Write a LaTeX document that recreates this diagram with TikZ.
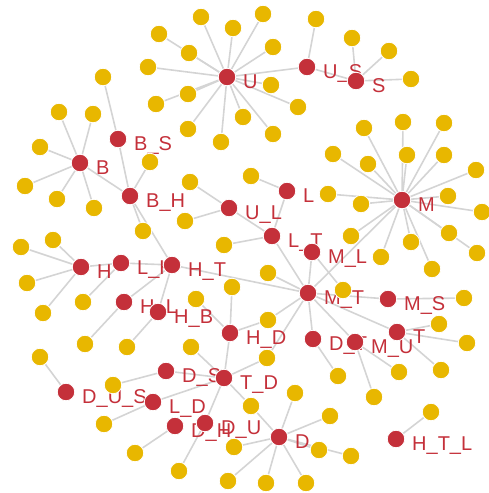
\documentclass[tikz,border=0pt]{standalone}
\usepackage{fontspec}
\setmainfont{Liberation Sans}
\definecolor{hubred}{HTML}{C4303A}
\definecolor{leafyel}{HTML}{E8B700}
\definecolor{linkgray}{HTML}{D4D4D4}
\pgfdeclarelayer{edges}
\pgfdeclarelayer{texts}
\pgfsetlayers{edges,texts,main}

\begin{document}
\begin{tikzpicture}[x=1pt,y=-1pt,
    hub/.style={circle,fill=hubred,draw=white,line width=0.8pt,minimum size=17.5pt,inner sep=0pt},
    leaf/.style={circle,fill=leafyel,draw=white,line width=0.8pt,minimum size=17.5pt,inner sep=0pt},
    tag/.style={anchor=base west,text=hubred,inner sep=0pt,font=\fontsize{20}{24}\selectfont},
    link/.style={draw=linkgray,line width=1.6pt}]
  \useasboundingbox (0,0) rectangle (489,493);

  % red tag nodes with their names
  \foreach \n/\x/\y/\lab in {U/227/77/U, US/307/67/U\_S, S/356/81/S, BS/118/139/B\_S,
      B/80/163/B, BH/130/196/B\_H, UL/229/208/U\_L, L/287/191/L, LT/272/236/L\_T,
      M/402/200/M, ML/312/252/M\_L, MT/308/293/M\_T, MS/388/299/M\_S, DT/313/339/D\_T,
      MU/355/342/M\_U, T/397/332/T, H/81/267/H, LH/121/263/L\_H, HT/172/265/H\_T,
      HL/124/302/H\_L, HB/158/312/H\_B, HD/230/333/H\_D, DS/166/371/D\_S, TD/224/378/T\_D,
      DUS/66/392/D\_U\_S, LD/153/402/L\_D, DH/175/426/D\_H, DU/205/423/D\_U, D/279/437/D,
      HTL/396/439/H\_T\_L} {
    \node[hub] (\n) at (\x,\y) {};
    \begin{pgfonlayer}{texts}
      \node[tag] (\n-t) at (\x+16,\y+11) {\lab};
    \end{pgfonlayer}
  }

  % yellow items
  \foreach \n/\x/\y in {u1/201/17, u2/233/28, u3/263/14, u4/159/34, u5/189/53, u6/273/47,
      u7/148/67, u8/271/85, u9/188/94, u10/156/104, u11/298/107, u12/243/117, u13/188/129,
      u14/273/134, u15/221/142, us1/316/19, s1/352/38, s2/389/51, s3/411/79, bs1/103/77,
      b1/59/112, b2/93/114, b3/40/147, b4/25/186, b5/57/199, b6/94/208, bh1/150/162,
      bh2/143/231, ul1/190/182, ul2/185/221, l1/251/176, lt1/224/245,
      m1/364/128, m2/403/122, m3/444/123, m4/333/154, m5/368/164, m6/407/155, m7/444/155,
      m8/476/170, m9/328/194, m10/361/204, m11/448/196, m12/482/212, m13/351/236,
      m14/411/242, m15/449/233, m16/477/253, m17/381/257, m18/432/269,
      mt1/268/273, x1/343/290, x2/268/320, x3/267/358, ms1/464/298, t1/439/324,
      t2/467/343, t3/441/370, mu1/399/372, mu2/374/397, dt1/338/376,
      h1/21/247, h2/53/240, h3/27/283, h4/43/313, lh1/83/302, hl1/85/344, hb1/127/347,
      hd1/196/299, hd2/232/287, td1/191/347, ds1/113/385, dus1/40/357, ld1/104/424,
      dh1/135/453, du1/179/471, d1/295/393, d2/330/416, d3/251/406, d4/234/447,
      d5/319/450, d6/351/456, d7/228/481, d8/266/483, d9/306/483, htl1/431/412}
    \node[leaf] (\n) at (\x,\y) {};

  \begin{pgfonlayer}{edges}
    \foreach \i in {1,...,15} \draw[link] (U) -- (u\i);
    \foreach \i in {1,...,18} \draw[link] (M) -- (m\i);
    \foreach \i in {1,...,6} \draw[link] (B) -- (b\i);
    \foreach \i in {1,...,4} \draw[link] (H) -- (h\i);
    \foreach \i in {1,...,9} \draw[link] (D) -- (d\i);
    \foreach \i in {1,2,3} {
      \draw[link] (S) -- (s\i);
      \draw[link] (T) -- (t\i);
    }
    \foreach \a/\b in {US/us1, BS/bs1, BH/bh1, BH/bh2, UL/ul1, UL/ul2, L/l1, LT/lt1,
        MT/mt1, ML/x1, MT/x2, HD/x2, MT/x3, TD/x3, MS/ms1, MU/mu1, MU/mu2, DT/dt1,
        LH/lh1, HL/hl1, HB/hb1, HD/hd1, HD/hd2, TD/td1, DS/ds1, DUS/dus1, LD/ld1,
        DH/dh1, DU/du1, TD/d3, HTL/htl1,
        U/US, US/S, BS/BH, B/BH, BH/HT, UL/LT, L/LT, LT/MT, ML/MT, M/MT, MT/MS,
        MT/T, MT/MU, MT/DT, HT/MT, H/LH, LH/HT, HL/HT, HB/HT, HD/TD, DS/TD,
        LD/TD, TD/DU}
      \draw[link] (\a) -- (\b);
  \end{pgfonlayer}
\end{tikzpicture}
\end{document}
